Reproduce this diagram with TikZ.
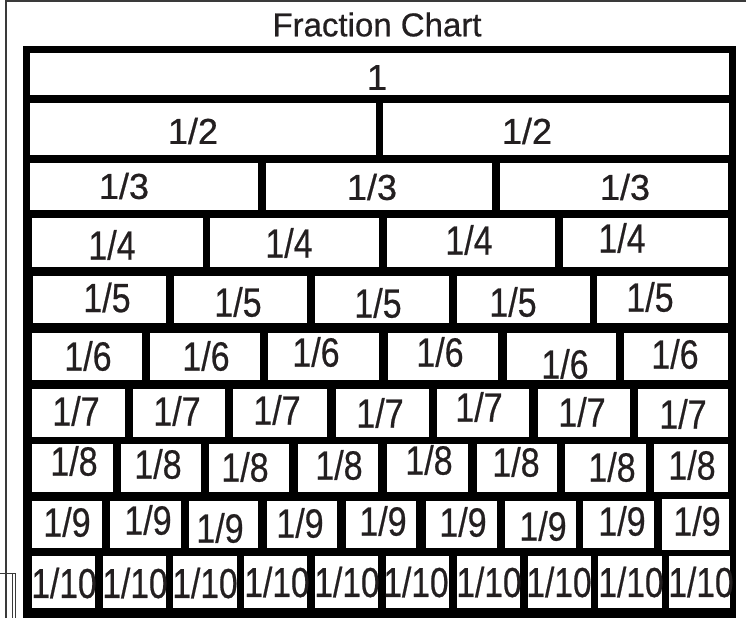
\documentclass[tikz,border=0pt]{standalone}
\usepackage{fontspec}
\setmainfont{Liberation Sans}
\newfontfamily\chartfont{Liberation Sans}[FakeBold=0.6]
\usepackage{graphicx}
\definecolor{txt}{HTML}{231F20}
\definecolor{framegray}{HTML}{3A3A3A}
\newcommand{\fcstretch}[2][1.2]{\scalebox{1}[#1]{#2}}
\begin{document}
\begin{tikzpicture}[x=1pt,y=-1pt,
  cellfill/.style={fill=white},
  frameline/.style={draw=framegray,line width=2pt},
  thinline/.style={draw=framegray,line width=1pt},
  titlelab/.style={text=txt,inner sep=0pt,font=\chartfont\fontsize{33}{38}\selectfont},
  biglab/.style={text=txt,inner sep=0pt,font=\chartfont\fontsize{36}{40}\selectfont},
  lab/.style={text=txt,inner sep=0pt,font=\chartfont\fontsize{34}{40}\selectfont},
  tenlab/.style={text=txt,inner sep=0pt,font=\chartfont\fontsize{33.5}{40}\selectfont}]
\useasboundingbox (0,0) rectangle (746,618);
\fill[white] (0,0) rectangle (746,618);
% thin outer frame
\draw[frameline] (6,618) -- (6,1.3) -- (746,1.3);
\draw[thinline] (0,573) -- (15,573);
\draw[thinline] (12,573) -- (12,618);
\draw[thinline] (15,573) -- (15,618);
% title
\node[titlelab] (title) at (377,24.5) {Fraction Chart};
% black board
\fill[black] (23,46) rectangle (736,618);
% row 1
\fill[cellfill] (30,53) rectangle (729,95);
% row 2
\foreach \a/\b in {30/376,383/729} \fill[cellfill] (\a,103) rectangle (\b,155);
% row 3
\foreach \a/\b in {30/258,266/492,500/728} \fill[cellfill] (\a,163) rectangle (\b,210);
% row 4
\foreach \a/\b in {32/203,210/379,387/555,563/728} \fill[cellfill] (\a,218) rectangle (\b,267);
% row 5
\foreach \a/\b in {33/166,174/307,315/449,457/590,597/728} \fill[cellfill] (\a,276) rectangle (\b,323);
% row 6
\foreach \a/\b in {32/142,150/260,268/379,388/498,507/616,624/728} \fill[cellfill] (\a,333) rectangle (\b,380);
% row 7
\foreach \a/\b in {32/125,133/225,233/327,336/429,437/529,538/630,638/728} \fill[cellfill] (\a,389) rectangle (\b,437);
% row 8
\foreach \a/\b in {32/113,121/201,209/289,298/378,387/468,477/557,565/646,654/728} \fill[cellfill] (\a,444) rectangle (\b,492);
% row 9
\foreach \a/\b in {32/102,110/181,189/258,267/337,346/416,426/497,505/576,583/654} \fill[cellfill] (\a,501) rectangle (\b,548);
\fill[cellfill] (662,499) rectangle (729,550);
% row 10
\foreach \a/\b in {32/95,103/166,173/237,244/307,315/378,386/449,457/520,528/591,598/662,669/730} \fill[cellfill] (\a,556) rectangle (\b,608);
% labels
\node[biglab] (r1c1) at (377,77.5) {1};
\foreach \x/\y [count=\i] in {193/131,527/131} \node[biglab] (r2c\i) at (\x,\y) {1/2};
\foreach \x/\y [count=\i] in {124/186,372/187,625/187} \node[biglab] (r3c\i) at (\x,\y) {1/3};
\foreach \x/\y [count=\i] in {112/245,289/243,469/240,622/238} \node[lab] (r4c\i) at (\x,\y) {\fcstretch{1/4}};
\foreach \x/\y [count=\i] in {107/297.5,238/302,378/303,513/302,650/297} \node[lab] (r5c\i) at (\x,\y) {\fcstretch{1/5}};
\foreach \x/\y [count=\i] in {88/356,206/356,316/352,440/352,565/364,675/354} \node[lab] (r6c\i) at (\x,\y) {\fcstretch{1/6}};
\foreach \x/\y [count=\i] in {76/411,177/411,277/410,380/413,479/407,582/412,683/414} \node[lab] (r7c\i) at (\x,\y) {\fcstretch{1/7}};
\foreach \x/\y [count=\i] in {74/461,158/464,245/467,339/465,429/460,516/462,612/467,692/465} \node[lab] (r8c\i) at (\x,\y) {\fcstretch{1/8}};
\foreach \x/\y [count=\i] in {67/522,148/520,220/528,300/523,383/521,463/522,543/526,622/521,697/521} \node[lab] (r9c\i) at (\x,\y) {\fcstretch{1/9}};
\foreach \x/\y [count=\i] in {64/583,135/583,205/583,277/582,347/582,416/582,489/582,559/582,631/582,701/582} \node[tenlab] (r10c\i) at (\x,\y) {\fcstretch[1.25]{1/10}};
\end{tikzpicture}
\end{document}
